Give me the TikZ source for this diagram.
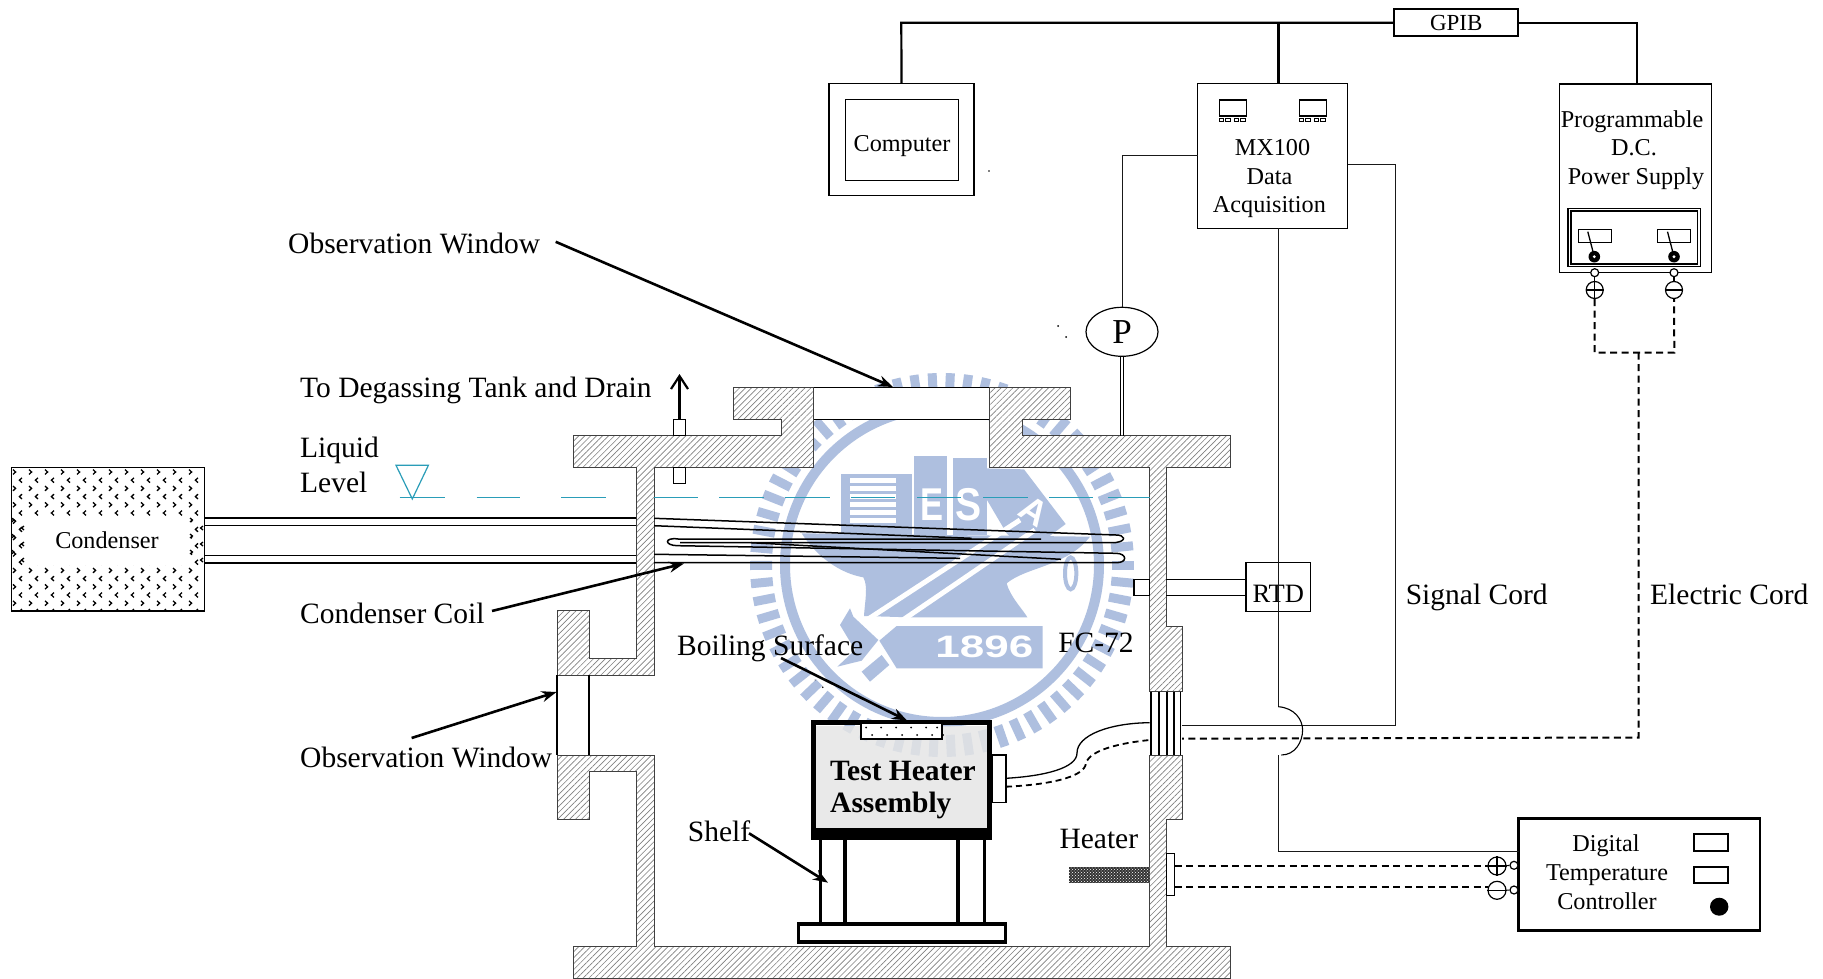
\documentclass[tikz,border=0pt]{standalone}
\usepackage{fontspec}
\setmainfont{Liberation Serif}
\newfontfamily\wmfont{Liberation Sans}
\usetikzlibrary{arrows.meta,patterns,patterns.meta,shapes.geometric}
\definecolor{wm}{HTML}{AEBFDF}
\definecolor{lvl}{HTML}{2A9DB8}
\tikzset{
  lbl/.style={anchor=base west,inner sep=0pt,yshift=-1pt,font=\fontsize{29.5}{29.5}\selectfont},
  clbl/.style={anchor=base,inner sep=0pt,font=\fontsize{24.2}{24.2}\selectfont},
  box/.style={draw,rectangle,inner sep=0pt,line width=#1,fill=white},
  box/.default=1.2pt,
  hatched/.style={pattern={Lines[angle=45,distance=4.2pt,line width=.65pt]},pattern color=black!50,draw=black!75,line width=1pt},
  ptr/.style={line width=2.6pt,-{Stealth[length=15pt,width=11pt,inset=5pt]}},
  cord/.style={line width=1pt,draw=black!90},
  bus/.style={line width=2.2pt},
  dcord/.style={line width=2pt,dash pattern=on 7pt off 4.5pt},
  coil/.style={line width=1.5pt},
  term/.style={circle,draw,inner sep=0pt,minimum size=#1,line width=1.2pt,fill=white},
  lv/.style={draw=lvl,line width=1.2pt},
}
\begin{document}
\begin{tikzpicture}[x=1pt,y=-1pt]
\useasboundingbox (0,0) rectangle (1823,979);
\fill[white] (0,0) rectangle (1823,979);

% ---- emblem watermark (reference: zoom coordinates, scale 1/3)
\begin{scope}[shift={(740,370)},scale=1/3]
  \draw[wm,line width=10pt] (606,585) circle (471);
  \foreach \a in {0,5.45,...,359}
    \draw[wm,line width=9pt] ({606+510*cos(\a)},{585+510*sin(\a)}) -- ({606+576*cos(\a)},{585+576*sin(\a)});
  \fill[wm] (303,312) rectangle (517,495);
  \fill[wm] (521,257) rectangle (622,495);
  \fill[wm] (638,265) rectangle (741,495);
  \foreach \y in {325,349,373,397,421,445}
    \fill[white] (330,\y) rectangle (468,\y+14);
  \fill[wm] (727,295) -- (852,298) -- (977,462) -- (860,550) -- (800,490) -- (741,390) -- cycle;
  \fill[wm] (185,490) .. controls (230,560) and (300,610) .. (370,622)
     .. controls (385,650) and (375,690) .. (372,738) -- (510,742) -- (862,742)
     .. controls (850,720) and (810,680) .. (800,640)
     .. controls (860,590) and (980,590) .. (1050,500) -- cycle;
  \draw[white,line width=5pt] (365,760) -- (840,450);
  \draw[white,line width=5pt] (415,800) -- (885,480);
  \fill[wm] (330,715) -- (300,765) -- (345,840) -- (292,890) -- (365,872) -- (415,810) -- (370,768) -- (340,740) -- cycle;
  \fill[wm] (365,905) -- (390,935) -- (448,885) -- (425,855) -- cycle;
  \fill[wm] (470,768) -- (908,768) -- (908,895) -- (470,895) -- (418,812) -- cycle;
  \draw[wm,line width=4pt] (992,610) ellipse (17 and 48);
  \node[inner sep=0pt,text=white,font=\wmfont\bfseries\fontsize{31}{31}\selectfont,xscale=1.42] (wm1896) at (733,830) {1896};
  \node[inner sep=0pt,text=white,font=\wmfont\bfseries\fontsize{46}{46}\selectfont,xscale=.75] (wmE) at (576,405) {E};
  \node[inner sep=0pt,text=white,font=\wmfont\bfseries\fontsize{46}{46}\selectfont,xscale=.85] (wmS) at (686,405) {S};
  \node[inner sep=0pt,text=white,rotate=-33,font=\wmfont\bfseries\fontsize{36}{36}\selectfont] (wmA) at (882,425) {A};
\end{scope}

% ---- condenser
\draw[line width=1.2pt,fill=white] (11.5,467.3) rectangle (204.3,611);
\begin{scope}
  \clip (12,468) rectangle (204,610.5);
  \foreach \r in {0,...,17}{
    \pgfmathsetmacro{\yy}{472+8.2*\r}
    \foreach \c in {0,...,12}{
      \pgfmathsetmacro{\xx}{14+16*\c}
      \ifodd\r
        \draw[line width=1.3pt] (\xx+8,\yy-2.4) -- (\xx+5.4,\yy) -- (\xx+8,\yy+2.4);
      \else
        \draw[line width=1.3pt] (\xx-1,\yy-2.4) -- (\xx+1.6,\yy) -- (\xx-1,\yy+2.4);
      \fi
    }
  }
\end{scope}
\fill[white] (23,518) rectangle (190.5,565);
\foreach \y in {520,536,552}{
  \draw[line width=1.3pt] (11.5,\y-2) -- (14,\y) -- (11.5,\y+2);
  \draw[line width=1.3pt] (24,\y+8-2) -- (21.6,\y+8) -- (24,\y+8+2);
  \draw[line width=1.3pt] (190,\y-2) -- (192.4,\y) -- (190,\y+2);
  \draw[line width=1.3pt] (203,\y+8-2) -- (200.6,\y+8) -- (203,\y+8+2);
}
\node[clbl] (condenser) at (107,548) {Condenser};

% ---- vessel
\fill[white] (813.6,387.3) rectangle (989.5,419.3);
\draw[line width=1.2pt] (813.6,387.3) rectangle (989.5,419.3);
\fill[white] (733,387.3) -- (813.6,387.3) -- (813.6,467.7) -- (654,467.7) -- (654,675) -- (557,675) -- (557,610.7) -- (589,610.7) -- (589,658.3) -- (636.4,658.3) -- (636.4,467.7) -- (573,467.7) -- (573,435.7) -- (781,435.7) -- (781,419.3) -- (733,419.3) -- cycle;
\draw[hatched] (733,387.3) -- (813.6,387.3) -- (813.6,467.7) -- (654,467.7) -- (654,675) -- (557,675) -- (557,610.7) -- (589,610.7) -- (589,658.3) -- (636.4,658.3) -- (636.4,467.7) -- (573,467.7) -- (573,435.7) -- (781,435.7) -- (781,419.3) -- (733,419.3) -- cycle;
\fill[white] (989.5,387.3) -- (1070,387.3) -- (1070,419.3) -- (1022,419.3) -- (1022,435.7) -- (1230,435.7) -- (1230,467.7) -- (1166.3,467.7) -- (1166.3,626.7) -- (1182,626.7) -- (1182,691.7) -- (1149.7,691.7) -- (1149.7,467.7) -- (989.5,467.7) -- cycle;
\draw[hatched] (989.5,387.3) -- (1070,387.3) -- (1070,419.3) -- (1022,419.3) -- (1022,435.7) -- (1230,435.7) -- (1230,467.7) -- (1166.3,467.7) -- (1166.3,626.7) -- (1182,626.7) -- (1182,691.7) -- (1149.7,691.7) -- (1149.7,467.7) -- (989.5,467.7) -- cycle;
\fill[white] (1149.7,755) -- (1182,755) -- (1182,819.3) -- (1166.3,819.3) -- (1166.3,946.7) -- (1230,946.7) -- (1230,978.3) -- (573,978.3) -- (573,946.7) -- (636.4,946.7) -- (636.4,771) -- (589,771) -- (589,819.3) -- (557,819.3) -- (557,755) -- (654,755) -- (654,946.7) -- (1149.7,946.7) -- cycle;
\draw[hatched] (1149.7,755) -- (1182,755) -- (1182,819.3) -- (1166.3,819.3) -- (1166.3,946.7) -- (1230,946.7) -- (1230,978.3) -- (573,978.3) -- (573,946.7) -- (636.4,946.7) -- (636.4,771) -- (589,771) -- (589,819.3) -- (557,819.3) -- (557,755) -- (654,755) -- (654,946.7) -- (1149.7,946.7) -- cycle;
% lower observation window
\draw[line width=1.2pt] (557,675) -- (557,755) (589,675) -- (589,755);
% feed-through
\fill[white] (1149.7,691.7) rectangle (1182,755);
\foreach \x in {1151,1159,1167,1174,1180.5}
  \draw[line width=1.6pt] (\x,691.7) -- (\x,755);

% degassing port
\draw[line width=1.2pt,fill=white] (673.6,419.3) rectangle (685.5,435.7);
\draw[line width=1.2pt,fill=white] (673.6,467.7) rectangle (685.5,483.3);
\coordinate (portTop) at (679.5,419.3);
\coordinate (portEnd) at (679.5,374);
\draw[line width=2.4pt,-{Straight Barb[length=13pt,width=17pt,line width=2.2pt]}] (portTop) -- (portEnd);

% liquid level
\draw[lv] (396,465.3) -- (428.4,465.3) -- (412.3,499) -- cycle;
\foreach \a/\b in {399.5/444.5,476.6/520,561/605.6,654/697.5,719/764,784.7/829.7,850.8/895,917/961,983/1027.6,1049/1093,1108.4/1149.7}
  \draw[lv] (\a,497.7) -- (\b,497.7);

% condenser pipes
\foreach \y in {518,525.3,555.3,563}
  \draw[line width=1.4pt] (204.3,\y) -- (636.4,\y);

% coil
\draw[coil] (654,518.3) -- (1116,535) .. controls (1125,535) and (1127,541) .. (1116,542.5) -- (680,542.5);
\draw[coil] (654,525.7) -- (971.6,538.3);
\draw[coil] (1041,539) -- (678,539) .. controls (664,537) and (664,545.7) .. (678,545.7) -- (1116,553.3) .. controls (1127,553.3) and (1128,563) .. (1116,562.7) -- (654,562.7);
\draw[coil] (654,554.3) -- (960,558.3);
\draw[coil] (751,542.7) -- (1061,559.3);

% RTD
\draw[line width=1.2pt,fill=white] (1134,579.3) rectangle (1149.7,595.3);
\node[box,minimum width=64.3pt,minimum height=48.8pt] (rtd) at (1278.2,587.1) {};
\node[anchor=base,inner sep=0pt,font=\fontsize{26.5}{26.5}\selectfont] (rtdLbl) at (1278.2,602) {RTD};
\coordinate (rtdA) at (1166.3,579.3);
\coordinate (rtdB) at (1166.3,595.3);
\draw[line width=1.2pt] (rtdA) -- (rtd.west |- rtdA) (rtdB) -- (rtd.west |- rtdB);

% heater assembly
\fill[black!10,opacity=.82] (815,726) rectangle (988,828);
\draw[line width=5pt] (813.5,722.5) -- (989.5,722.5) (813.5,720) -- (813.5,840) (989.5,720) -- (989.5,840);
\fill (811,828.3) rectangle (992,840);
\draw[line width=1.5pt,fill=white] (861,723.3) rectangle (942,739);
\foreach \x in {866,881,896,911,926,937}{
  \fill (\x,727.5) circle (1);
  \fill (\x+6,735) circle (1);
}
\node[anchor=base west,inner sep=0pt,font=\bfseries\fontsize{29.5}{29.5}\selectfont] (heat1) at (830,780) {Test Heater};
\node[anchor=base west,inner sep=0pt,font=\bfseries\fontsize{29.5}{29.5}\selectfont] (heat2) at (830,812) {Assembly};
\draw[line width=1.3pt,fill=white] (992,755) rectangle (1006,802.7);
\coordinate (hsA) at (1006,778.3);
\coordinate (hsB) at (1006,786.7);
\coordinate (ftA) at (1149.7,722.7);
\coordinate (ftB) at (1149.7,740);
\draw[line width=1.3pt] (hsA) .. controls (1045,776) and (1077,768) .. (1077,753) .. controls (1077,735) and (1110,723) .. (ftA);
\draw[line width=1.8pt,dash pattern=on 6pt off 4pt] (hsB) .. controls (1045,785) and (1085,778) .. (1086,763) .. controls (1090,750) and (1120,743) .. (ftB);
% shelf
\foreach \x in {820.5,845,958,984.5}
  \draw[line width=3.2pt] (\x,840) -- (\x,923);
\draw[line width=3.2pt,fill=white] (798.5,924) rectangle (1005.5,942);

% heater
\fill[black!80] (1069,866.7) rectangle (1149.7,882.7);
\fill[pattern=crosshatch dots,pattern color=white] (1069,866.7) rectangle (1149.7,882.7);
\draw[line width=1.2pt,fill=white] (1166.3,853.3) rectangle (1174.5,895.7);
\node[lbl,anchor=base] (heaterLbl) at (1098.8,847) {Heater};

% upper instruments
\node[box=1.3pt,minimum width=145pt,minimum height=111.6pt] (computer) at (901.5,139.5) {};
\node[box=1pt,minimum width=113pt,minimum height=80pt] (computerIn) at (901.5,140) {};
\node[clbl] (computerLbl) at (902,151) {Computer};
\node[box=2pt,minimum width=124.5pt,minimum height=26.7pt,font=\fontsize{23}{23}\selectfont] (gpib) at (1456.2,22.6) {GPIB};
\node[box=1.3pt,minimum width=150pt,minimum height=144.3pt] (mx) at (1272.8,156) {};
\node[box=1.3pt,minimum width=152.3pt,minimum height=188.7pt] (psu) at (1635.6,178.3) {};
\node[draw,ellipse,inner sep=0pt,minimum width=72pt,minimum height=49pt,line width=1.2pt,fill=white,font=\fontsize{35}{35}\selectfont] (pgauge) at (1122,331.8) {P};

\coordinate (busL) at (901.3,22.7);
\coordinate (mxTop) at (1278.4,84);
\coordinate (mxBus) at (1278.4,22.7);
\coordinate (psuTop) at (1636.8,84);
\coordinate (psuBus) at (1636.8,22.7);
\draw[bus] (gpib.west |- busL) -- (busL) -- (computer.north);
\draw[bus] (mxBus) -- (mxTop);
\draw[bus] (gpib.east |- psuBus) -- (psuBus) -- (psuTop);

% MX100 face
\foreach \x in {1219.3,1299.4}{
  \draw[line width=1.3pt] (\x,100) rectangle (\x+27.4,116);
  \foreach \d in {0,6.5,15,21.5}
    \draw[line width=1pt] (\x+\d,118.7) rectangle (\x+\d+4.5,122);
}
\node[clbl] (mx1) at (1272.5,155.5) {MX100};
\node[clbl] (mx2) at (1269.4,184.7) {Data};
\node[clbl] (mx3) at (1269.4,212.5) {Acquisition};
% PSU face
\node[clbl] (psu1) at (1632,127.3) {Programmable};
\node[clbl] (psu2) at (1634,155.7) {D.C.};
\node[clbl] (psu3) at (1636,184.7) {Power Supply};
\draw[line width=1.3pt] (1568,208.3) rectangle (1700.3,266.7);
\draw[line width=1.3pt] (1571,211) rectangle (1697.5,264);
\foreach \x/\k in {1578.6/1594.3,1657.8/1674}{
  \draw[line width=1pt] (\x,229) rectangle (\x+32.4,242.7);
  \draw[line width=1.3pt] (\k-6.5,231.7) -- (\k,256.7);
  \fill (\k,256.7) circle (5.8);
  \fill[white] (\k,256.7) circle (1.6);
}
\node[term=8pt] (pSmallP) at (1594.7,272.7) {};
\node[term=8pt] (pSmallM) at (1674,272.7) {};
\node[term=17pt] (pPlus) at (1594.7,290) {};
\node[term=17pt] (pMinus) at (1674,290) {};
\draw[line width=1.1pt] (pSmallP) -- (pPlus) (pSmallM) -- (pMinus);
\draw[line width=1.2pt] (pPlus.west) -- (pPlus.east) (pPlus.north) -- (pPlus.south) (pMinus.west) -- (pMinus.east);
\coordinate (pJoinL) at (1594.7,352.7);
\coordinate (pJoinR) at (1674.3,352.7);
\coordinate (pJoin) at (1638.5,352.7);
\coordinate (eCorner) at (1638.5,737.5);
\coordinate (eWall) at (1182,738.7);
\draw[dcord] (pPlus.south) -- (pJoinL) -- (pJoinR) -- (pMinus.south);
\draw[dcord] (pJoin) -- (eCorner) -- (eWall);

% signal cords
\coordinate (mxL) at (1197.8,156);
\coordinate (mxLc) at (1122,156);
\draw[cord] (mxL) -- (mxLc) -- (pgauge.north);
\draw[line width=1.1pt] (1120.3,356.3) -- (1120.3,435.7) (1123.5,356.3) -- (1123.5,435.7);
\coordinate (mxR) at (1347.9,164);
\coordinate (mxRc) at (1395,164);
\coordinate (sigC) at (1395,725.7);
\coordinate (sigW) at (1182,725.7);
\draw[cord] (mxR) -- (mxRc) -- (sigC) -- (sigW);
\coordinate (mxB) at (1278.4,228.3);
\coordinate (arcA) at (1278.4,706.7);
\coordinate (arcB) at (1281.4,755);
\coordinate (tcIn) at (1278.4,851);

% controller
\node[box=2.6pt,minimum width=241.3pt,minimum height=112pt] (ctrl) at (1639.2,874.7) {};
\coordinate (ctrlIn) at (1518.6,851);
\draw[cord] (mxB) -- (arcA);
\draw[line width=1.1pt] (arcA) .. controls (1295,708) and (1302.6,720) .. (1302.6,730) .. controls (1302.6,742) and (1295,755) .. (arcB);
\draw[cord] (1278.4,755) -- (tcIn) -- (ctrlIn);
\draw[line width=2pt] (1694.4,834.3) rectangle (1727.5,851);
\draw[line width=2pt] (1694.4,866.7) rectangle (1727.5,883.3);
\fill (1719.2,906.7) ellipse (9.2 and 9);
\node[clbl] (tc1) at (1606,851.3) {Digital};
\node[clbl] (tc2) at (1607,880.7) {Temperature};
\node[clbl] (tc3) at (1607,909) {Controller};
\node[term=8pt] (cSmallP) at (1514,865.3) {};
\node[term=8pt] (cSmallM) at (1514,890) {};
\node[term=18pt] (cPlus) at (1497,866) {};
\node[term=18pt] (cMinus) at (1497,890.3) {};
\draw[line width=1.1pt] (cSmallP) -- (cPlus) (cSmallM) -- (cMinus);
\draw[line width=1.2pt] (cPlus.west) -- (cPlus.east) (cPlus.north) -- (cPlus.south) (cMinus.west) -- (cMinus.east);
\coordinate (plugA) at (1174.5,866);
\coordinate (plugB) at (1174.5,887.3);
\draw[dcord] (plugA) -- (cPlus.west);
\draw[dcord] (plugB) -- (1488,887.3);

% labels and pointers
\node[lbl] (obsTop) at (288,252.5) {Observation Window};
\node[lbl] (degas) at (300,396.5) {To Degassing Tank and Drain};
\node[lbl] (liq1) at (300,456) {Liquid};
\node[lbl] (liq2) at (300,491) {Level};
\node[lbl] (coilLbl) at (300,622) {Condenser Coil};
\node[lbl] (boil) at (677,654.5) {Boiling Surface};
\node[lbl,anchor=base] (fc) at (1096,651.5) {FC-72};
\node[lbl] (obsLow) at (300,766.5) {Observation Window};
\node[lbl,anchor=base] (shelf) at (719,840) {Shelf};
\node[lbl] (sig) at (1405.6,603.5) {Signal Cord};
\node[lbl] (elec) at (1650,603.5) {Electric Cord};

\coordinate (pA1) at (555.7,241.8); \coordinate (pA2) at (893,387);
\coordinate (pB1) at (492,611);     \coordinate (pB2) at (684,563.5);
\coordinate (pC1) at (781,658);     \coordinate (pC2) at (907,720.5);
\coordinate (pD1) at (411.6,738);   \coordinate (pD2) at (556.5,692);
\coordinate (pE1) at (749,833.3);   \coordinate (pE2) at (828,882.7);
\draw[ptr] (pA1) -- (pA2);
\draw[ptr] (pB1) -- (pB2);
\draw[ptr] (pC1) -- (pC2);
\draw[ptr] (pD1) -- (pD2);
\draw[ptr] (pE1) -- (pE2);

% specks
\fill (989,171) circle (.8);
\fill (1058,326) circle (1) (1066,337) circle (1);
\fill (822.7,687.3) circle (.9) (815,680) circle (.5);
\end{tikzpicture}
\end{document}
